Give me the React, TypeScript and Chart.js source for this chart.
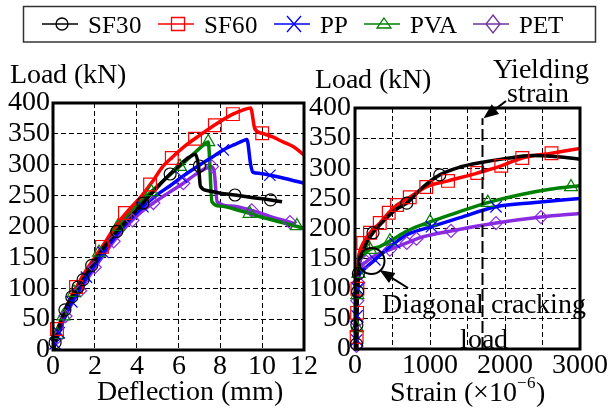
import React, { useEffect, useRef } from 'react';
import { Chart, registerables } from 'chart.js';

Chart.register(...registerables);

type P = [number, number];

// font family (switched to an explicitly loaded local face once it is ready)
let currentFamily = "'Liberation Serif', 'Times New Roman', Times, serif";
const F = () => currentFamily;

// ---------- series meta ----------
const seriesNames = ['SF30', 'SF60', 'PP', 'PVA', 'PET'];
const seriesColors = ['#000000', '#ff0000', '#0000ff', '#008000', '#8a2be2'];
const legendColors = ['#000000', '#ff0000', '#0000ff', '#008000', '#7030a0'];
const markerStyles = ['circle', 'rect', 'crossRot', 'triangle', 'rectRot'];
const markerRadii = [6, 9, 8, 7.5, 6.5];

// ---------- ticks ----------
const loadTicks = [0, 50, 100, 150, 200, 250, 300, 350, 400];
const deflectionTicks = [0, 2, 4, 6, 8, 10, 12];
const strainGrid = [0, 500, 1000, 1500, 2000, 2500, 3000];
const strainLabels = [0, 1000, 2000, 3000];

// ---------- load vs deflection (mm, kN) ----------
const sf30Deflection: P[] = [[0, 0], [0.1, 12], [0.3, 40], [0.57, 65], [0.9, 86], [1.44, 114], [1.85, 137], [2.4, 165], [3.05, 192], [3.7, 216], [4.3, 238], [5.0, 264], [5.6, 285], [6.1, 301], [6.5, 312], [6.8, 317], [6.95, 300], [7.05, 265], [7.4, 258], [8.0, 254], [8.7, 251], [9.5, 247], [10.4, 243], [10.95, 240]];
const sf60Deflection: P[] = [[0, 0], [0.1, 22], [0.42, 50], [0.75, 78], [1.15, 104], [1.6, 130], [2.0, 150], [2.5, 175], [2.97, 200], [3.6, 226], [4.25, 250], [4.8, 275], [5.27, 298], [5.7, 312], [6.3, 330], [7.03, 348], [7.8, 366], [8.6, 382], [9.1, 389], [9.45, 392], [9.65, 358], [10.0, 351], [10.5, 345], [11.0, 337], [11.5, 329], [12.0, 316]];
const ppDeflection: P[] = [[0, 0], [0.2, 20], [0.5, 48], [0.9, 78], [1.29, 100], [1.8, 128], [2.25, 150], [2.8, 176], [3.37, 200], [4.3, 232], [5.0, 252], [5.6, 266], [6.15, 280], [7.03, 300], [7.6, 312], [8.14, 324], [8.7, 333], [9.1, 339], [9.27, 341], [9.45, 300], [9.55, 288], [9.9, 286], [10.37, 283], [11.2, 277], [12.0, 270]];
const pvaDeflection: P[] = [[0, 0], [0.15, 20], [0.5, 55], [1.0, 93], [1.5, 122], [2.0, 148], [2.5, 172], [3.1, 200], [3.8, 228], [4.5, 250], [5.2, 272], [6.15, 300], [6.8, 320], [7.2, 332], [7.42, 337], [7.6, 240], [8.0, 233], [9.0, 225], [10.0, 215], [11.0, 206], [12.0, 197]];
const petDeflection: P[] = [[0, 0], [0.2, 20], [0.53, 50], [0.95, 78], [1.37, 100], [1.85, 126], [2.34, 150], [2.9, 176], [3.5, 200], [4.1, 220], [4.8, 238], [5.5, 254], [6.23, 270], [6.8, 284], [7.3, 294], [7.55, 297], [7.7, 290], [7.85, 240], [8.5, 233], [9.5, 226], [10.4, 216], [11.33, 207], [11.6, 204]];

const sf30DeflectionMarks: P[] = [[0.1, 12], [0.57, 65], [0.9, 86], [1.2, 102], [1.44, 114], [1.85, 137], [3.05, 192], [4.3, 238], [5.6, 285], [7.0, 298], [8.7, 251], [10.4, 243]];
const sf60DeflectionMarks: P[] = [[0.19, 34], [1.1, 102], [2.34, 167], [3.44, 222], [4.64, 268], [5.68, 311], [6.79, 342], [7.74, 364], [8.6, 382], [10.0, 351]];
const ppDeflectionMarks: P[] = [[0.1, 10], [0.3, 28], [0.9, 78], [1.6, 118], [2.4, 158], [4.3, 232], [6.15, 280], [8.14, 324], [10.37, 283]];
const pvaDeflectionMarks: P[] = [[0.2, 25], [0.5, 55], [1.0, 93], [2.2, 158], [3.1, 200], [4.7, 256], [6.07, 297], [7.42, 337], [9.4, 221], [11.66, 201]];
const petDeflectionMarks: P[] = [[0.2, 20], [0.6, 55], [1.3, 96], [2.0, 134], [2.9, 176], [3.8, 210], [4.8, 238], [6.23, 270], [7.6, 297], [9.5, 226], [11.33, 207]];

// ---------- load vs strain (×10^-6, kN) ----------
const sf30Strain: P[] = [[20, 0], [25, 40], [30, 80], [40, 115], [55, 138], [100, 160], [170, 180], [240, 193], [400, 215], [550, 232], [690, 242], [900, 268], [1130, 289], [1400, 302], [1700, 310], [2000, 316], [2360, 321], [2700, 319], [3000, 315]];
const sf60Strain: P[] = [[20, 0], [25, 40], [30, 80], [35, 120], [42, 145], [60, 160], [110, 176], [200, 193], [330, 209], [450, 226], [560, 239], [730, 252], [950, 269], [1240, 279], [1630, 292], [1950, 304], [2230, 317], [2620, 325], [3000, 333]];
const ppStrain: P[] = [[20, 0], [25, 40], [30, 80], [40, 112], [80, 127], [160, 137], [265, 148], [400, 163], [530, 176], [700, 190], [1020, 203], [1400, 218], [1880, 236], [2400, 243], [3000, 250]];
const pvaStrain: P[] = [[20, 0], [25, 40], [30, 80], [40, 120], [60, 145], [110, 156], [200, 165], [330, 170], [465, 179], [700, 196], [1000, 211], [1300, 224], [1770, 243], [2200, 256], [2600, 265], [3000, 271]];
const petStrain: P[] = [[20, 0], [25, 40], [30, 80], [40, 112], [70, 132], [150, 145], [300, 157], [465, 165], [690, 176], [900, 186], [1280, 196], [1880, 209], [2480, 219], [3000, 225]];

const sf30StrainMarks: P[] = [[20, 8], [25, 40], [35, 95], [45, 125], [240, 193], [690, 242], [1130, 289]];
const sf60StrainMarks: P[] = [[22, 20], [28, 60], [32, 100], [110, 176], [200, 193], [330, 209], [450, 226], [560, 239], [730, 252], [950, 269], [1240, 279], [1630, 292], [1950, 304], [2230, 317], [2620, 325]];
const ppStrainMarks: P[] = [[22, 15], [28, 55], [35, 100], [265, 148], [530, 176], [1020, 203], [1880, 236]];
const pvaStrainMarks: P[] = [[25, 35], [32, 90], [45, 125], [200, 165], [465, 179], [1000, 211], [1770, 243], [2880, 269]];
const petStrainMarks: P[] = [[20, 5], [25, 45], [30, 80], [45, 110], [150, 145], [465, 165], [690, 176], [820, 183], [1280, 196], [1880, 209], [2480, 219]];

// ---------- annotations ----------
const yieldingStrain = 1700;
const yieldingTopLoad = 383;
const crackingPoint: P = [220, 146];

const W = 608;
const H = 416;

function toXY(pts: P[]) {
  return pts.map(([x, y]) => ({ x, y }));
}

function buildDatasets(lines: P[][], marks: P[][]) {
  const out: any[] = [];
  lines.forEach((pts, i) =>
    out.push({
      label: seriesNames[i],
      data: toXY(pts),
      borderColor: seriesColors[i],
      backgroundColor: seriesColors[i],
      borderWidth: 3.5,
      pointRadius: 0,
      cubicInterpolationMode: 'monotone',
      fill: false,
      order: 1,
    })
  );
  marks.forEach((pts, i) =>
    out.push({
      label: seriesNames[i] + ' markers',
      data: toXY(pts),
      showLine: false,
      pointStyle: markerStyles[i],
      pointRadius: markerRadii[i],
      pointBorderColor: seriesColors[i],
      pointBackgroundColor: 'rgba(0,0,0,0)',
      pointBorderWidth: 1.2,
      borderColor: seriesColors[i],
      clip: false,
      order: 0,
    })
  );
  return out;
}

function linearAxis(min: number, max: number, ticks: number[], labels: number[], fit: { width?: number; height?: number }, padding: number) {
  return {
    type: 'linear',
    min,
    max,
    afterBuildTicks: (s: any) => {
      s.ticks = ticks.map((v) => ({ value: v }));
    },
    afterFit: (s: any) => {
      if (fit.width !== undefined) s.width = fit.width;
      if (fit.height !== undefined) s.height = fit.height;
    },
    ticks: {
      font: { family: F(), size: 28 },
      color: '#000',
      padding,
      autoSkip: false,
      maxRotation: 0,
      minRotation: 0,
      callback: (v: any) => (labels.includes(Number(v)) ? String(v) : ''),
    },
    grid: { color: '#000', lineWidth: 1, drawTicks: false },
    border: { display: false, dash: [5, 3] },
  };
}

function arrow(ctx: CanvasRenderingContext2D, x1: number, y1: number, x2: number, y2: number, headLen: number, headWidth: number) {
  const ang = Math.atan2(y2 - y1, x2 - x1);
  const bx = x2 - headLen * Math.cos(ang);
  const by = y2 - headLen * Math.sin(ang);
  ctx.beginPath();
  ctx.moveTo(x1, y1);
  ctx.lineTo(bx, by);
  ctx.stroke();
  ctx.beginPath();
  ctx.moveTo(x2, y2);
  ctx.lineTo(bx + (headWidth / 2) * Math.sin(ang), by - (headWidth / 2) * Math.cos(ang));
  ctx.lineTo(bx - (headWidth / 2) * Math.sin(ang), by + (headWidth / 2) * Math.cos(ang));
  ctx.closePath();
  ctx.fill();
}

function legendMarker(ctx: CanvasRenderingContext2D, style: string, x: number, y: number, color: string) {
  ctx.strokeStyle = color;
  ctx.lineWidth = 1.3;
  ctx.beginPath();
  if (style === 'circle') {
    ctx.arc(x, y, 6, 0, Math.PI * 2);
  } else if (style === 'rect') {
    ctx.rect(x - 6.5, y - 6.5, 13, 13);
  } else if (style === 'crossRot') {
    ctx.moveTo(x - 7, y - 8);
    ctx.lineTo(x + 7, y + 8);
    ctx.moveTo(x + 7, y - 8);
    ctx.lineTo(x - 7, y + 8);
  } else if (style === 'triangle') {
    ctx.moveTo(x, y - 6);
    ctx.lineTo(x + 7, y + 4);
    ctx.lineTo(x - 7, y + 4);
    ctx.closePath();
  } else {
    ctx.moveTo(x, y - 9);
    ctx.lineTo(x + 7, y);
    ctx.lineTo(x, y + 9);
    ctx.lineTo(x - 7, y);
    ctx.closePath();
  }
  ctx.stroke();
}

function drawLegend(ctx: CanvasRenderingContext2D) {
  ctx.save();
  ctx.setLineDash([]);
  ctx.strokeStyle = '#333';
  ctx.lineWidth = 1.5;
  ctx.strokeRect(23.5, 6.5, 572, 35.5);
  ctx.font = `25px ${F()}`;
  ctx.textAlign = 'left';
  ctx.textBaseline = 'alphabetic';
  let x = 42;
  const y = 24;
  seriesNames.forEach((name, i) => {
    ctx.strokeStyle = legendColors[i];
    ctx.lineWidth = 1.6;
    ctx.beginPath();
    ctx.moveTo(x, y);
    ctx.lineTo(x + 36, y);
    ctx.stroke();
    legendMarker(ctx, markerStyles[i], x + 20, y, legendColors[i]);
    ctx.fillStyle = '#000';
    ctx.fillText(name, x + 46, 33);
    x = x + 46 + ctx.measureText(name).width + 16;
  });
  ctx.restore();
}

function drawFrame(chart: any) {
  const ctx: CanvasRenderingContext2D = chart.ctx;
  const a = chart.chartArea;
  ctx.save();
  ctx.setLineDash([]);
  ctx.strokeStyle = '#000';
  ctx.lineWidth = 3;
  ctx.strokeRect(a.left, a.top, a.right - a.left, a.bottom - a.top);
  ctx.restore();
}

const leftDecor = {
  id: 'leftDecor',
  afterDraw(chart: any) {
    const ctx: CanvasRenderingContext2D = chart.ctx;
    drawFrame(chart);
    ctx.save();
    ctx.fillStyle = '#000';
    ctx.font = `28px ${F()}`;
    ctx.textBaseline = 'alphabetic';
    ctx.textAlign = 'left';
    ctx.fillText('Load (kN)', 10, 83);
    ctx.textAlign = 'center';
    ctx.fillText('Deflection (mm)', 190, 400);
    ctx.restore();
    drawLegend(ctx);
  },
};

const rightDecor = {
  id: 'rightDecor',
  afterDraw(chart: any) {
    const ctx: CanvasRenderingContext2D = chart.ctx;
    const xs = chart.scales.x;
    const ys = chart.scales.y;
    ctx.save();
    const yx = xs.getPixelForValue(yieldingStrain);
    ctx.strokeStyle = '#000';
    ctx.lineWidth = 2;
    ctx.setLineDash([12, 4]);
    ctx.beginPath();
    ctx.moveTo(yx, ys.getPixelForValue(0));
    ctx.lineTo(yx, ys.getPixelForValue(yieldingTopLoad));
    ctx.stroke();
    ctx.setLineDash([]);
    ctx.restore();

    drawFrame(chart);

    ctx.save();
    ctx.fillStyle = '#000';
    ctx.strokeStyle = '#000';
    ctx.lineWidth = 2;
    arrow(ctx, 506, 101, yx + 1, ys.getPixelForValue(yieldingTopLoad), 15, 12);

    const cx = xs.getPixelForValue(crackingPoint[0]);
    const cy = ys.getPixelForValue(crackingPoint[1]);
    ctx.beginPath();
    ctx.arc(cx, cy, 13, 0, Math.PI * 2);
    ctx.stroke();
    arrow(ctx, 408, 288, cx + 8, cy + 9, 15, 12);

    const f = F();
    ctx.font = `28px ${f}`;
    ctx.textBaseline = 'alphabetic';
    ctx.textAlign = 'left';
    ctx.fillText('Load (kN)', 315, 88);
    ctx.textAlign = 'center';
    ctx.fillText('Yielding', 541, 78);
    ctx.fillText('strain', 538, 102);
    ctx.fillText('Diagonal cracking', 484, 313);
    ctx.fillText('load', 484, 348);

    ctx.textAlign = 'left';
    const a = 'Strain (\u00d710';
    const b = '\u22126';
    const c = ')';
    ctx.font = `28px ${f}`;
    const wa = ctx.measureText(a).width;
    const wc = ctx.measureText(c).width;
    ctx.font = `17px ${f}`;
    const wb = ctx.measureText(b).width;
    const x = 467 - (wa + wb + wc) / 2;
    ctx.font = `28px ${f}`;
    ctx.fillText(a, x, 401);
    ctx.font = `17px ${f}`;
    ctx.fillText(b, x + wa, 388);
    ctx.font = `28px ${f}`;
    ctx.fillText(c, x + wa + wb, 401);
    ctx.restore();
  },
};

export default function App() {
  const leftRef = useRef<HTMLCanvasElement>(null);
  const rightRef = useRef<HTMLCanvasElement>(null);

  useEffect(() => {
    const common = {
      responsive: false,
      maintainAspectRatio: false,
      animation: false,
      devicePixelRatio: 1,
      events: [],
    };
    const left = new Chart(leftRef.current as HTMLCanvasElement, {
      type: 'line',
      data: {
        datasets: buildDatasets(
          [sf30Deflection, sf60Deflection, ppDeflection, pvaDeflection, petDeflection],
          [sf30DeflectionMarks, sf60DeflectionMarks, ppDeflectionMarks, pvaDeflectionMarks, petDeflectionMarks]
        ),
      },
      options: {
        ...common,
        layout: { padding: { left: 0, right: W - 304, top: 103, bottom: 0 } },
        plugins: { legend: { display: false }, tooltip: { enabled: false }, title: { display: false } },
        scales: {
          x: linearAxis(0, 12, deflectionTicks, deflectionTicks, { height: H - 350 }, 0),
          y: linearAxis(0, 400, loadTicks, loadTicks, { width: 53 }, 3),
        },
      } as any,
      plugins: [leftDecor],
    } as any);

    const right = new Chart(rightRef.current as HTMLCanvasElement, {
      type: 'line',
      data: {
        datasets: buildDatasets(
          [sf30Strain, sf60Strain, ppStrain, pvaStrain, petStrain],
          [sf30StrainMarks, sf60StrainMarks, ppStrainMarks, pvaStrainMarks, petStrainMarks]
        ),
      },
      options: {
        ...common,
        layout: { padding: { left: 305, right: 27, top: 108, bottom: 0 } },
        plugins: { legend: { display: false }, tooltip: { enabled: false }, title: { display: false } },
        scales: {
          x: linearAxis(0, 3000, strainGrid, strainLabels, { height: H - 349 }, 0),
          y: linearAxis(0, 400, loadTicks, loadTicks, { width: 50 }, 4),
        },
      } as any,
      plugins: [rightDecor],
    } as any);

    const charts = [left, right];
    let alive = true;
    const redraw = () => {
      if (!alive) return;
      charts.forEach((c: any) => {
        ['x', 'y'].forEach((k) => {
          c.options.scales[k].ticks.font = { family: F(), size: 28 };
        });
        c.update('none');
      });
    };

    // explicitly load the local serif face, then redraw with it
    try {
      const FF = (window as any).FontFace;
      const fonts = (document as any).fonts;
      if (FF && fonts) {
        const face = new FF('ChartSerif', "local('Liberation Serif'), local('LiberationSerif'), local('Liberation Serif Regular'), local('Times New Roman')");
        fonts.add(face);
        face.load().then(
          () => {
            currentFamily = "ChartSerif, 'Liberation Serif', serif";
            redraw();
          },
          () => redraw()
        );
      }
    } catch (e) {
      /* ignore */
    }
    const timers = [setTimeout(redraw, 60), setTimeout(redraw, 250), setTimeout(redraw, 800)];

    return () => {
      alive = false;
      timers.forEach((t) => clearTimeout(t));
      left.destroy();
      right.destroy();
    };
  }, []);

  return (
    <div style={{ position: 'absolute', left: 0, top: 0, width: W, height: H, background: '#fff' }}>
      <canvas ref={leftRef} width={W} height={H} style={{ position: 'absolute', left: 0, top: 0 }} />
      <canvas ref={rightRef} width={W} height={H} style={{ position: 'absolute', left: 0, top: 0 }} />
    </div>
  );
}
